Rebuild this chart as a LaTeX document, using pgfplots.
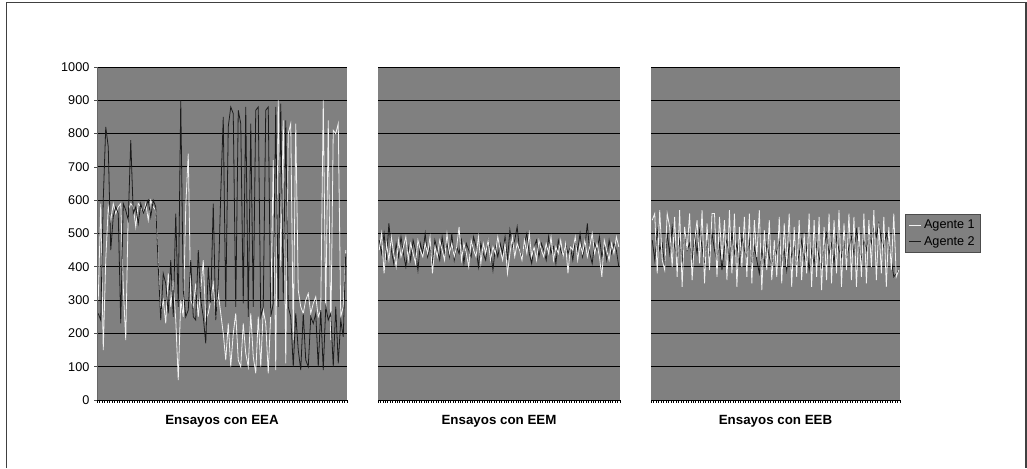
\documentclass[border=0pt]{standalone}
\usepackage{pgfplots}
\usepackage{pgfplotstable}
\pgfplotsset{compat=1.18}
\usepackage{fontspec}
\setmainfont{Liberation Sans}
\definecolor{bggray}{HTML}{808080}
\definecolor{lightser}{HTML}{F2F2F2}
\definecolor{darkser}{HTML}{1C1C1C}

\pgfplotstableread{
a b
300 260
590 240
150 600
420 820
580 760
540 450
590 550
560 580
580 560
590 230
340 590
180 570
570 540
590 780
580 560
520 580
590 530
580 590
560 560
590 580
540 600
600 550
580 600
570 580
420 400
260 240
300 380
230 350
380 260
280 420
360 250
240 560
60 280
300 900
250 330
580 250
740 270
300 420
280 250
350 240
250 450
330 300
420 250
240 170
260 400
300 290
350 590
250 240
320 350
260 620
200 850
120 280
230 820
100 880
200 860
260 280
120 870
100 830
230 290
140 880
100 250
260 830
130 280
80 870
250 880
100 250
270 280
230 870
80 880
260 250
720 290
90 880
900 280
400 890
840 300
110 840
800 280
830 250
180 100
830 260
330 150
280 90
260 260
300 120
320 100
260 250
290 230
310 260
250 100
270 270
900 90
260 280
840 240
180 260
810 100
800 280
830 110
250 240
280 190
450 440
}\tblA

\pgfplotstableread{
a b
450 480
500 440
380 500
470 420
420 530
490 450
440 410
400 470
480 430
430 490
460 440
490 400
420 460
470 420
440 480
410 450
480 390
450 470
430 440
470 500
440 430
490 460
380 410
460 480
430 450
480 420
450 490
420 440
500 470
440 430
470 500
430 420
460 460
520 440
420 480
470 410
440 470
400 450
480 430
450 490
430 460
490 400
410 470
470 440
440 420
480 480
420 450
460 390
440 460
490 430
450 470
420 440
470 490
380 420
440 510
490 460
430 480
470 520
450 450
420 430
480 470
440 500
500 440
430 410
460 460
420 480
480 430
450 470
430 450
470 420
440 490
490 440
420 460
460 410
440 480
480 450
430 430
470 470
380 440
460 460
450 420
490 480
420 450
470 500
440 430
480 460
430 530
460 440
500 410
440 470
470 450
430 490
370 430
480 460
450 420
420 480
470 440
440 470
490 450
460 400
}\tblB

\pgfplotstableread{
a b
540 480
560 420
380 510
570 450
420 470
390 400
560 500
520 440
400 520
550 460
370 430
570 480
340 410
520 500
450 450
560 470
360 420
480 490
540 440
410 510
570 460
350 400
530 480
390 430
560 500
560 450
370 420
550 470
420 390
540 460
360 480
570 420
380 500
560 440
340 470
520 410
400 490
550 450
370 430
560 480
350 400
540 460
430 420
570 380
330 450
510 410
390 470
540 430
360 400
480 460
370 440
550 480
350 410
530 450
400 390
560 470
340 430
520 460
370 400
540 440
360 480
500 420
380 460
560 390
340 450
540 410
370 470
550 430
330 400
520 460
360 500
560 440
350 470
540 410
380 490
570 450
340 430
530 480
390 420
560 460
360 490
550 440
340 510
520 460
370 420
560 480
350 450
540 500
400 470
570 520
360 490
530 530
380 480
550 460
340 500
520 470
390 420
560 370
370 380
390 390
}\tblC

\pgfplotsset{
  panel/.style={
    scale only axis,
    anchor=south west,
    height=249.75pt,
    xmin=0.5, xmax=100.5,
    ymin=0, ymax=1000,
    xtick={0.5,1.5,...,100.5},
    xticklabel=\empty,
    xtick pos=bottom,
    tick align=outside,
    major tick length=2.2pt,
    x tick style={black, line width=0.5pt},
    ytick={0,100,...,1000},
    ymajorgrids,
    grid style={black, line width=0.7pt},
    axis background/.style={fill=bggray},
    separate axis lines,
    x axis line style={draw=black, line width=0.7pt},
    y axis line style={draw=none},
    /pgf/number format/assume math mode=true,
    /pgf/number format/1000 sep={},
    tick label style={font=\fontsize{9.5}{10}\selectfont},
    xlabel style={at={(axis description cs:0.5,0)}, anchor=north, yshift=-11pt,
      inner sep=0pt, font=\fontsize{10}{12}\selectfont\bfseries},
  },
  ser1/.style={color=lightser, line width=0.6pt, mark=none},
  ser2/.style={color=darkser, line width=0.6pt, mark=none},
}

\begin{document}
\begin{tikzpicture}
\useasboundingbox (0pt,0pt) rectangle (770.25pt,351pt);
\draw[black!75, line width=1.1pt] (4.875pt,0pt) -- (4.875pt,349pt) -- (769.5pt,349pt) -- (769.5pt,0pt);

% Panel 1
\begin{axis}[panel, at={(72.75pt,51pt)}, width=187.5pt,
  ytick style={black!70, line width=0.5pt},
  ytick pos=left, xlabel={Ensayos con EEA}]
\addplot[ser1] table[x expr=\coordindex+1, y=a] {\tblA};
\addplot[ser2] table[x expr=\coordindex+1, y=b] {\tblA};
\end{axis}

% Panel 2
\begin{axis}[panel, at={(283.5pt,51pt)}, width=181.5pt,
  yticklabel=\empty, ytick style={draw=none}, xlabel={Ensayos con EEM}]
\addplot[ser2] table[x expr=\coordindex+1, y=b] {\tblB};
\addplot[ser1] table[x expr=\coordindex+1, y=a] {\tblB};
\end{axis}

% Panel 3
\begin{axis}[panel, at={(488.25pt,51pt)}, width=186.75pt,
  yticklabel=\empty, ytick style={draw=none}, xlabel={Ensayos con EEB},
  legend style={at={(rel axis cs:1.022,0.5586)}, anchor=north west,
    fill=bggray, draw=black!70, line width=0.6pt,
    font=\fontsize{9.5}{10}\selectfont, inner xsep=2pt, inner ysep=2pt,
    row sep=0.5pt, cells={anchor=west}},
  legend image code/.code={\draw[#1, line width=0.6pt] (0pt,0pt) -- (9pt,0pt);},
  reverse legend]
\addplot[ser2] table[x expr=\coordindex+1, y=b] {\tblC};
\addlegendentry{Agente 2}
\addplot[ser1] table[x expr=\coordindex+1, y=a] {\tblC};
\addlegendentry{Agente 1}
\end{axis}
\draw[black!60, line width=0.7pt] (72.75pt,51pt) -- (72.75pt,300.75pt);
\end{tikzpicture}
\end{document}
